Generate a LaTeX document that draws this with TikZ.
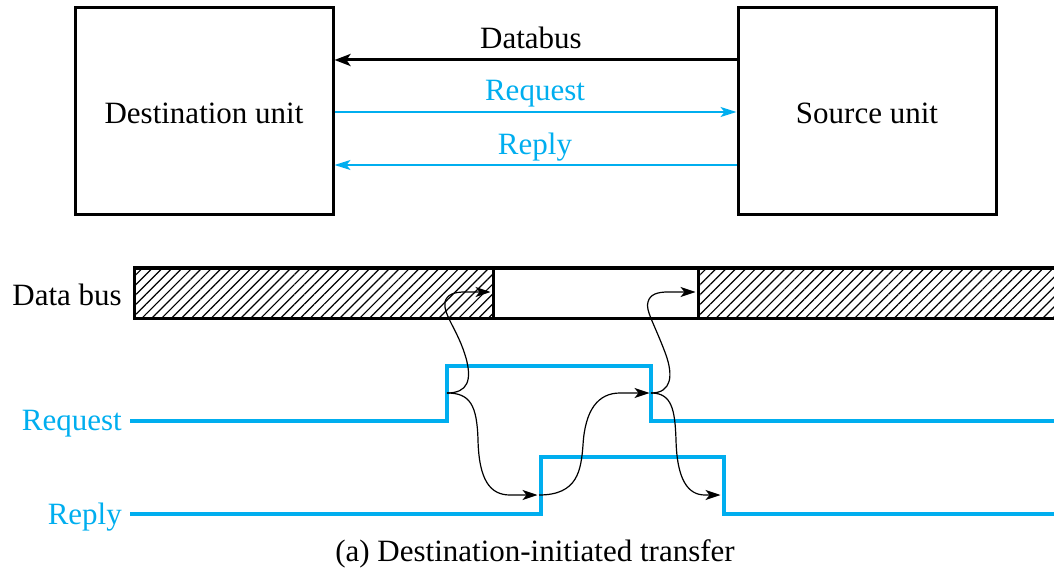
\documentclass[tikz,border=0pt]{standalone}
\usepackage{fontspec}
\setmainfont{Liberation Serif}
\usetikzlibrary{arrows.meta,patterns.meta}
\definecolor{sig}{RGB}{0,174,239}
\begin{document}
\begin{tikzpicture}[x=1pt,y=-1pt,
  txt/.style={font=\fontsize{31}{36}\selectfont, inner sep=0pt},
  unit/.style={draw, line width=3pt, minimum width=258pt, minimum height=207pt, txt},
  busarrow/.style={line width=3pt, -{Stealth[length=16pt,width=12pt,inset=4pt]}},
  sigarrow/.style={sig, line width=1.5pt, -{Stealth[length=16pt,width=10pt,inset=4pt]}},
  siglabel/.style={txt, text=sig},
  sigline/.style={sig, line width=4pt},
  hatch/.style={draw, line width=3pt, pattern={Lines[angle=45,distance=7pt,line width=1.2pt]}},
  plain/.style={draw, line width=3pt, fill=white},
  causal/.style={line width=1.2pt, -{Stealth[length=15pt,width=10pt,inset=4pt]}, shorten >=1.5pt}
]
\useasboundingbox (0,0) rectangle (1054,569);

% top block diagram
\node[unit] (dest) at (204,111.5) {};
\node[unit] (src) at (867,111.5) {};
\node[txt] (ldest) at (204,113.5) {Destination unit};
\node[txt] (lsrc) at (867,113.5) {Source unit};
\draw[busarrow] (src.west |- 0,60) -- (dest.east |- 0,60);
\draw[sigarrow] (dest.east |- 0,112) -- (src.west |- 0,112);
\draw[sigarrow] (src.west |- 0,165) -- (dest.east |- 0,165);
\node[txt] (lbus) at (531,38) {Databus};
\node[siglabel] (lreq) at (535,94) {Request};
\node[siglabel] (lrep) at (535,147) {Reply};

% data bus bar
\path[hatch] (134,268) rectangle (493,318);
\path[plain] (493,268) rectangle (698,318);
\path[hatch] (698,268) rectangle (1058,318);
\node[txt, anchor=east] (ldb) at (122,295) {Data bus};

% signals
\coordinate (rq0) at (130,421);
\coordinate (rq1) at (447,421);
\coordinate (rq2) at (651,421);
\coordinate (rqE) at (1058,421);
\draw[sigline] (rq0) -- (rq1) -- ++(0,-55) -| (rq2) -- (rqE);
\coordinate (rp0) at (130,514);
\coordinate (rp1) at (541,514);
\coordinate (rp2) at (724,514);
\coordinate (rpE) at (1058,514);
\draw[sigline] (rp0) -- (rp1) -- ++(0,-57) -| (rp2) -- (rpE);
\node[siglabel, anchor=east] (lsreq) at (122,424) {Request};
\node[siglabel, anchor=east] (lsrep) at (122,517) {Reply};

% causal arrows
\coordinate (rqup) at (447,393);
\coordinate (rqdn) at (651,393);
\coordinate (rpup) at (539,495);
\coordinate (rpdn) at (722,495);
\coordinate (db1) at (492,292);
\coordinate (db2) at (697,292);
\draw[causal] (rqup) .. controls (468,393) and (472,380) .. (466,358)
  .. controls (458,330) and (443,315) .. (445,302)
  .. controls (447,294) and (455,292) .. (465,292) -- (db1);
\draw[causal] (rqup) .. controls (470,393) and (477,405) .. (478,440)
  .. controls (479,480) and (490,495) .. (510,495) -- (rpup);
\draw[causal] (rpup) .. controls (578,495) and (581,470) .. (583,445)
  .. controls (585,410) and (598,393) .. (620,393) -- (rqdn);
\draw[causal] (rqdn) .. controls (672,393) and (673,375) .. (666,355)
  .. controls (655,325) and (645,310) .. (648,302)
  .. controls (650,294) and (658,292) .. (668,292) -- (db2);
\draw[causal] (rqdn) .. controls (672,393) and (675,410) .. (676,440)
  .. controls (677,480) and (688,495) .. (705,495) -- (rpdn);

\node[txt] (cap) at (535,554) {(a) Destination-initiated transfer};
\end{tikzpicture}
\end{document}
